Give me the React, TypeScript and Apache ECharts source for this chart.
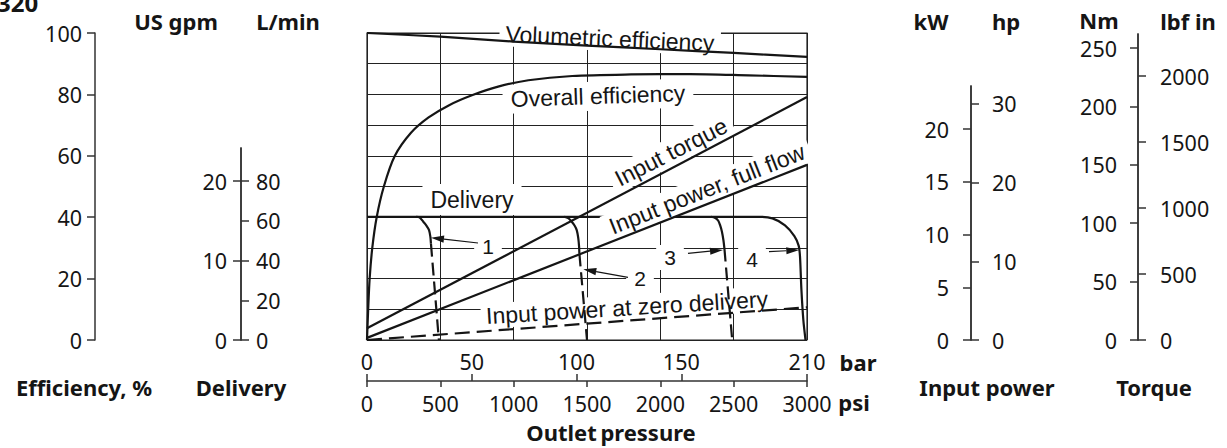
import React, { useEffect, useRef } from 'react';
import * as echarts from 'echarts';

// ---------- tick values ----------
const psiTicks = [0, 500, 1000, 1500, 2000, 2500, 3000];
const barTicks = [0, 50, 100, 150, 210];
const effTicks = [0, 20, 40, 60, 80, 100];
const gpmTicks = [0, 10, 20];
const lminTicks = [0, 20, 40, 60, 80];
const kwTicks = [0, 5, 10, 15, 20];
const hpTicks = [0, 10, 20, 30];
const nmTicks = [0, 50, 100, 150, 200, 250];
const lbfTicks = [0, 500, 1000, 1500, 2000];

// ---------- series data (x = outlet pressure, psi) ----------
const volumetricEff = [[0, 100], [500, 98.8], [1000, 97.2], [1500, 95.9], [2000, 94.7], [2500, 93.5], [3000, 92.2]];
const overallEff = [[0, 0], [8, 10], [18, 20], [36, 30], [66, 40], [115, 50], [190, 60], [300, 67.5], [420, 72.5], [560, 76.5], [720, 79.8], [900, 82.6], [1100, 84.6], [1400, 86], [1800, 86.5], [2200, 86.6], [2600, 86.2], [3000, 85.7]];
const inputTorqueNm = [[0, 10], [3000, 208]];
const powerFullFlowKw = [[0, 0.2], [3000, 16.6]];
const powerZeroDeliveryKw = [[0, 0], [3000, 3.1]];
// delivery, L/min
const delivery4 = [[0, 62], [2666, 62], [2764, 61.2], [2850, 57.7], [2914, 52.3], [2943, 47.5], [2952, 42.3], [2962, 25.2], [2975, 10.1], [2990, 0]];
const delivery1Solid = [[335, 62], [360, 61.6], [384, 59.5], [405, 57.6], [423, 55.3], [432, 52], [436, 48.5]];
const delivery1Dash = [[436, 48.5], [490, 0]];
const delivery2Solid = [[1345, 62], [1372, 61.3], [1396, 59.5], [1416, 57.5], [1430, 55.3], [1440, 51.5], [1446, 47], [1448, 43.6]];
const delivery2Dash = [[1448, 43.6], [1500, 0]];
const delivery3Solid = [[2345, 62], [2375, 61.4], [2395, 60], [2407, 57.9], [2420, 54.5], [2430, 50.3], [2437, 46]];
const delivery3Dash = [[2437, 46], [2490, 0]];

// ---------- layout ----------
const PLOT_LEFT = 367;
const PLOT_TOP = 33;
const PLOT_W = 440;
const PLOT_BOTTOM = 340;
const PLOT_H = PLOT_BOTTOM - PLOT_TOP;

const DELIV_TOP = 148;
const POWER_TOP = 86;
const TORQUE_TOP = 34;

const gpmMax = (PLOT_BOTTOM - DELIV_TOP) / 7.95;
const lminMax = (PLOT_BOTTOM - DELIV_TOP) / 1.9875;
const kwMax = (PLOT_BOTTOM - POWER_TOP) / 10.55;
const hpMax = kwMax * 1.341;
const nmMax = (PLOT_BOTTOM - TORQUE_TOP) / 1.168;
const lbfMax = nmMax * 8.8507;

const ink = '#151515';
const axisCol = '#333';
const font = '"Noto Sans", "DejaVu Sans", sans-serif';
const plotFont = '"Liberation Sans", Arial, sans-serif';
const LABEL_SIZE = 21.5;
const fmt = (v: number) => String(v);

function sideGrid(left: number, top: number) {
  return { left, top, width: 10, height: PLOT_BOTTOM - top, show: false, containLabel: false, outerBoundsMode: 'none' };
}

function sideAxis(gridIndex: number, max: number, ticks: number[], inside: boolean, margin: number) {
  return {
    type: 'value', gridIndex, position: 'left', min: 0, max,
    axisLine: { show: true, onZero: false, lineStyle: { color: axisCol, width: 1.5 } },
    axisTick: { show: true, inside, length: 8, customValues: ticks, lineStyle: { color: axisCol, width: 1.5 } },
    axisLabel: { show: true, inside, margin, customValues: ticks, formatter: fmt, color: ink, fontSize: LABEL_SIZE, fontFamily: font },
    splitLine: { show: false },
  };
}

function hiddenY(max: number) {
  return { type: 'value', gridIndex: 0, min: 0, max, show: false, splitLine: { show: false } };
}

function lineSeries(name: string, data: number[][], yAxisIndex: number, opts: any = {}) {
  return {
    name, type: 'line', data, xAxisIndex: 0, yAxisIndex,
    showSymbol: false, symbol: 'none', silent: true,
    smooth: opts.smooth ?? false,
    z: opts.z ?? 4,
    lineStyle: { color: ink, width: 2.2, type: opts.dash ?? 'solid', cap: 'butt' },
  };
}

function txt(text: string, x: number, y: number, o: any = {}) {
  return {
    type: 'text', x, y, rotation: ((o.rot ?? 0) * Math.PI) / 180, z: o.z ?? 1, silent: true,
    style: {
      text, fill: ink,
      fontSize: o.size ?? 23, fontFamily: o.family ?? plotFont, fontWeight: o.weight ?? 'normal',
      align: o.align ?? 'center', verticalAlign: 'middle',
      backgroundColor: o.bg, padding: o.pad,
    },
  };
}

function boldTxt(text: string, x: number, y: number) {
  return txt(text, x, y, { family: font, weight: 'bold', size: 22, z: 6 });
}

function arrow(x1: number, y1: number, x2: number, y2: number) {
  const dx = x2 - x1, dy = y2 - y1;
  const len = Math.sqrt(dx * dx + dy * dy);
  const ux = dx / len, uy = dy / len;
  const hl = 13, hw = 3.6;
  const bx = x2 - ux * hl, by = y2 - uy * hl;
  return [
    { type: 'line', z: 6, silent: true, shape: { x1, y1, x2: bx, y2: by }, style: { stroke: ink, lineWidth: 1.2 } },
    { type: 'polygon', z: 6, silent: true, shape: { points: [[x2, y2], [bx - uy * hw, by + ux * hw], [bx + uy * hw, by - ux * hw]] }, style: { fill: ink } },
  ];
}

export default function App() {
  const ref = useRef<HTMLDivElement>(null);
  useEffect(() => {
    if (!ref.current) return;
    const chart = echarts.init(ref.current, undefined, { renderer: 'svg' });
    const bg = '#fff';
    const option: any = {
      animation: false,
      backgroundColor: '#fff',
      grid: [
        { left: PLOT_LEFT, top: PLOT_TOP, width: PLOT_W, height: PLOT_H, show: true, borderColor: '#222', borderWidth: 1.2, backgroundColor: 'transparent', containLabel: false, outerBoundsMode: 'none' },
        sideGrid(95, PLOT_TOP),
        sideGrid(241, DELIV_TOP),
        sideGrid(971, POWER_TOP),
        sideGrid(1138, TORQUE_TOP),
      ],
      xAxis: [
        { type: 'value', gridIndex: 0, min: 0, max: 3000, interval: 500, position: 'bottom',
          axisLine: { show: false }, axisTick: { show: false }, axisLabel: { show: false },
          splitLine: { show: true, lineStyle: { color: '#222', width: 1 } } },
        { type: 'value', gridIndex: 0, min: 0, max: 3000, position: 'bottom', offset: 41,
          axisLine: { show: true, onZero: false, lineStyle: { color: axisCol, width: 1.5 } },
          axisTick: { show: true, length: 6, customValues: psiTicks, lineStyle: { color: axisCol, width: 1.5 } },
          axisLabel: { show: true, margin: 11, customValues: psiTicks, formatter: fmt, color: ink, fontSize: LABEL_SIZE, fontFamily: font },
          splitLine: { show: false } },
        { type: 'value', gridIndex: 0, min: 0, max: 210, position: 'bottom', offset: 41,
          axisLine: { show: false, onZero: false },
          axisTick: { show: true, inside: true, length: 7, customValues: barTicks, lineStyle: { color: axisCol, width: 1.5 } },
          axisLabel: { show: true, inside: true, margin: 9, customValues: barTicks, formatter: fmt, color: ink, fontSize: LABEL_SIZE, fontFamily: font },
          splitLine: { show: false } },
        { type: 'value', gridIndex: 1, min: 0, max: 1, show: false },
        { type: 'value', gridIndex: 2, min: 0, max: 1, show: false },
        { type: 'value', gridIndex: 3, min: 0, max: 1, show: false },
        { type: 'value', gridIndex: 4, min: 0, max: 1, show: false },
      ],
      yAxis: [
        { type: 'value', gridIndex: 0, min: 0, max: 100, interval: 10,
          axisLine: { show: false }, axisTick: { show: false }, axisLabel: { show: false },
          splitLine: { show: true, lineStyle: { color: '#222', width: 1 } } },
        hiddenY(lminMax * PLOT_H / (PLOT_BOTTOM - DELIV_TOP)),
        hiddenY(kwMax * PLOT_H / (PLOT_BOTTOM - POWER_TOP)),
        hiddenY(nmMax * PLOT_H / (PLOT_BOTTOM - TORQUE_TOP)),
        sideAxis(1, 100, effTicks, false, 13),
        sideAxis(2, gpmMax, gpmTicks, false, 14),
        sideAxis(2, lminMax, lminTicks, true, 15),
        sideAxis(3, kwMax, kwTicks, false, 22),
        sideAxis(3, hpMax, hpTicks, true, 21),
        sideAxis(4, nmMax, nmTicks, false, 21),
        sideAxis(4, lbfMax, lbfTicks, true, 22),
      ],
      series: [
        lineSeries('Volumetric efficiency', volumetricEff, 0, { smooth: 0.3 }),
        lineSeries('Overall efficiency', overallEff, 0, { smooth: 0.3 }),
        lineSeries('Input torque', inputTorqueNm, 3),
        lineSeries('Input power, full flow', powerFullFlowKw, 2),
        lineSeries('Input power at zero delivery', powerZeroDeliveryKw, 2, { dash: [15, 7] }),
        lineSeries('Delivery 4', delivery4, 1, { smooth: 0.3, z: 2 }),
        lineSeries('Delivery 1', delivery1Solid, 1, { smooth: 0.3 }),
        lineSeries('Delivery 1 (dashed)', delivery1Dash, 1, { dash: [13, 6] }),
        lineSeries('Delivery 2', delivery2Solid, 1, { smooth: 0.3 }),
        lineSeries('Delivery 2 (dashed)', delivery2Dash, 1, { dash: [13, 6] }),
        lineSeries('Delivery 3', delivery3Solid, 1, { smooth: 0.3 }),
        lineSeries('Delivery 3 (dashed)', delivery3Dash, 1, { dash: [13, 6] }),
      ],
      graphic: [
        txt('320', -3, 2, { family: font, weight: 'bold', size: 24, align: 'left', z: 6 }),
        boldTxt('US gpm', 176, 21),
        boldTxt('L/min', 288, 21),
        boldTxt('kW', 931, 21),
        boldTxt('hp', 1006, 21),
        boldTxt('Nm', 1099, 20),
        boldTxt('lbf in', 1188, 21),
        boldTxt('Efficiency, %', 84, 387),
        boldTxt('Delivery', 241, 387),
        boldTxt('Input power', 987, 387),
        boldTxt('Torque', 1154, 387),
        boldTxt('Outlet\u2009pressure', 611, 432),
        boldTxt('bar', 858, 362),
        boldTxt('psi', 854, 402),
        txt('Volumetric efficiency', 610, 38.5, { rot: -2.5, bg, pad: [2, 6, 0, 6] }),
        txt('Overall efficiency', 598, 96, { rot: 2, bg, pad: [3, 8, 3, 8] }),
        txt('Delivery', 472, 199.5, { bg, pad: [4, 8, 4, 8] }),
        txt('Input torque', 671, 152, { rot: 27, bg, pad: [2, 6, 2, 6] }),
        txt('Input power, full flow', 707, 189, { rot: 21.5, bg, pad: [2, 6, 2, 6], z: 3 }),
        txt('Input power at zero delivery', 627, 307.5, { rot: 3.5, bg, pad: [2, 5, 0, 5] }),
        txt('1', 488, 246, { size: 21, bg, pad: [2, 8, 2, 8] }),
        txt('2', 640, 278, { size: 21, bg, pad: [2, 8, 2, 8] }),
        txt('3', 670, 257.5, { size: 21, bg, pad: [2, 8, 2, 8] }),
        txt('4', 752, 259, { size: 21, bg, pad: [2, 8, 2, 8] }),
        ...arrow(478, 243, 431, 237.7),
        ...arrow(628, 277.3, 583.3, 269.3),
        ...arrow(688, 253.3, 723, 250),
        ...arrow(769, 251.7, 799.3, 250),
      ],
    };
    chart.setOption(option);
    return () => chart.dispose();
  }, []);
  return <div ref={ref} style={{ position: 'fixed', left: 0, top: 0, width: 1227, height: 448, background: '#fff' }} />;
}
